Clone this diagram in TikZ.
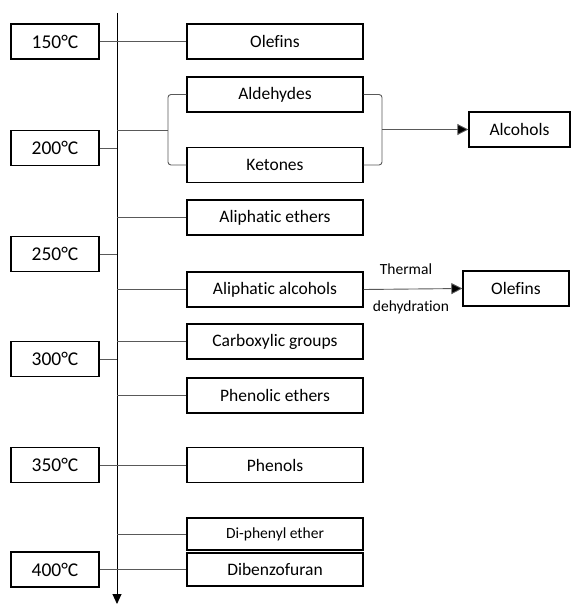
\documentclass[tikz,border=0pt]{standalone}
\usepackage{fontspec}
\setmainfont[Ligatures=NoCommon]{Carlito}
\usetikzlibrary{arrows.meta}
\begin{document}
\begin{tikzpicture}[x=1pt,y=-1pt,
  tbox/.style={draw=black,line width=1.4pt,minimum width=88pt,minimum height=35pt,inner sep=0pt,font=\fontsize{19.5}{22}\selectfont},
  pbox/.style={draw=black,line width=1.4pt,minimum width=176pt,minimum height=35pt,inner sep=0pt,font=\fontsize{17.5}{20}\selectfont},
  conn/.style={draw=black!65,line width=0.9pt},
  arr/.style={conn,-{Triangle[length=11pt,width=11pt,fill=black]}},
  lab/.style={font=\fontsize{15.5}{18}\selectfont,inner sep=0pt}]
\useasboundingbox (0,0) rectangle (573,610);
% axis
\coordinate (top) at (117,13);
\coordinate (bot) at (117,604);
\draw[black,line width=0.9pt,-{Triangle[length=10pt,width=9pt]}] (top) -- (bot);
% temperature boxes
\node[tbox] (t150) at (55,41.5) {150°C};
\node[tbox] (t200) at (55,148) {200°C};
\node[tbox] (t250) at (55,254) {250°C};
\node[tbox] (t300) at (55,359) {300°C};
\node[tbox] (t350) at (55,465) {350°C};
\node[tbox] (t400) at (55,569.5) {400°C};
% product boxes
\node[pbox] (ole) at (275,41.5) {Olefins};
\node[pbox] (ald) at (275,94.5) {Aldehydes};
\node[pbox] (ket) at (275,165) {Ketones};
\node[pbox] (aeth) at (275,217.5) {Aliphatic ethers};
\node[pbox] (aalc) at (275,289.5) {Aliphatic alcohols};
\node[pbox] (carb) at (275,341.5) {Carboxylic groups};
\node[pbox] (peth) at (275,395.5) {Phenolic ethers};
\node[pbox] (phen) at (275,465) {Phenols};
\node[pbox,minimum height=32pt,font=\fontsize{15.5}{18}\selectfont] (dpe) at (275,534) {Di-phenyl ether};
\node[pbox,minimum height=33pt] (dbf) at (275,569.5) {Dibenzofuran};
\node[draw=black,line width=1.4pt,minimum width=101pt,minimum height=35pt,inner sep=0pt,font=\fontsize{17.5}{20}\selectfont] (alc) at (519.5,129.5) {Alcohols};
\node[draw=black,line width=1.4pt,minimum width=106pt,minimum height=35pt,inner sep=0pt,font=\fontsize{17.5}{20}\selectfont] (ole2) at (516,288.5) {Olefins};
% axis crossing points
\coordinate (a130) at (117,130);
\coordinate (a148) at (117,148);
\coordinate (a218) at (117,217.5);
\coordinate (a254) at (117,254);
\coordinate (a289) at (117,289.5);
\coordinate (a341) at (117,341.5);
\coordinate (a359) at (117,359);
\coordinate (a395) at (117,395.5);
\coordinate (a537) at (117,534);
% connectors
\draw[conn] (t150) -- (ole);
\draw[conn] (t200) -- (a148);
\draw[conn] (t250) -- (a254);
\draw[conn] (t300) -- (a359);
\draw[conn] (t350) -- (phen);
\draw[conn] (t400) -- (dbf);
\draw[conn] (a218) -- (aeth);
\draw[conn] (a289) -- (aalc);
\draw[conn] (a341) -- (carb);
\draw[conn] (a395) -- (peth);
\draw[conn] (a537) -- (dpe);
% left bracket
\coordinate (lb) at (168,130);
\draw[conn] (a130) -- (lb);
\draw[conn,rounded corners=3pt] (ald.west) -| (lb) |- (ket.west);
% right bracket
\coordinate (rb) at (382,129.5);
\draw[conn,rounded corners=3pt] (ald.east) -| (rb) |- (ket.east);
\draw[arr] (rb) -- (alc.west);
% dehydration
\draw[arr] (aalc.east) -- node[lab,above=14pt,xshift=-7pt] {Thermal} node[lab,below=11pt,xshift=-2pt] {dehydration} (ole2.west);
\end{tikzpicture}
\end{document}
